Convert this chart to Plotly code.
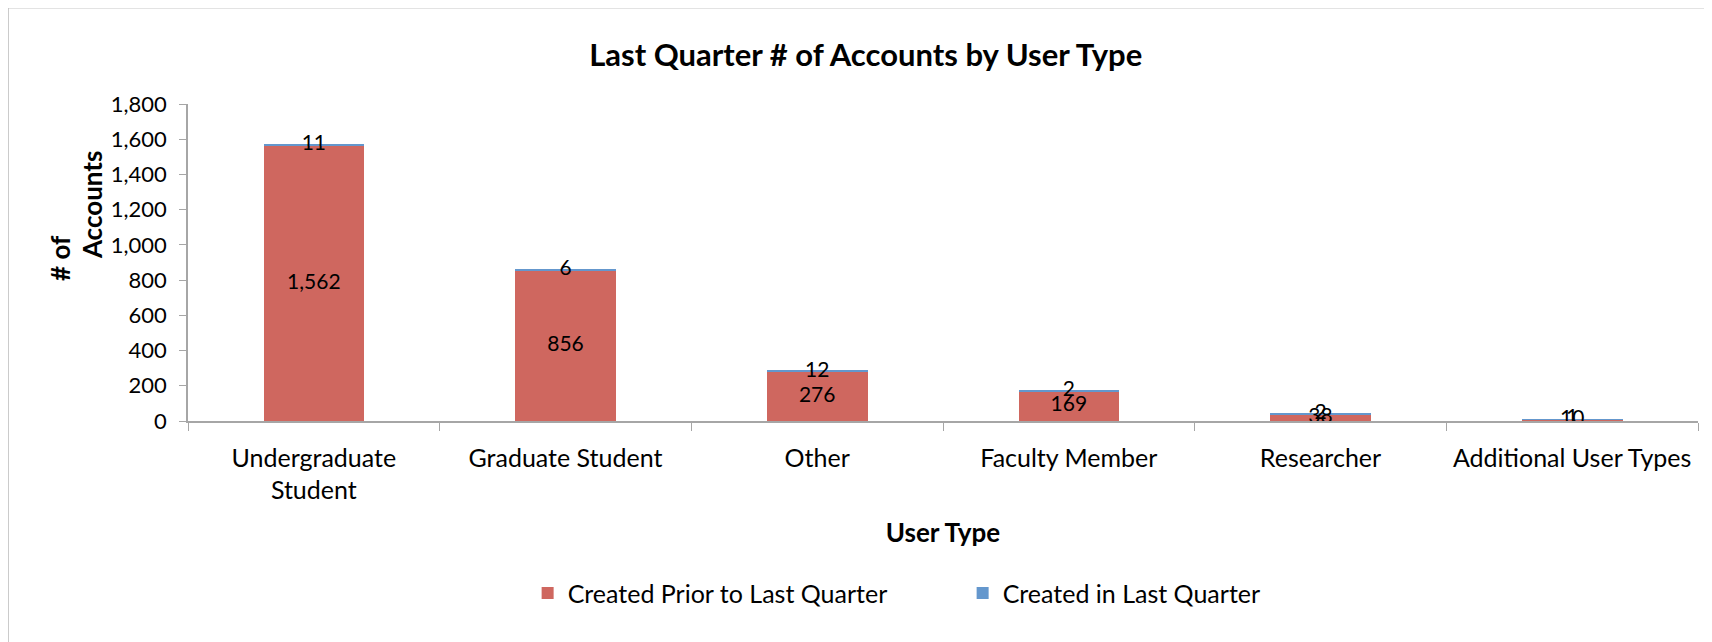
import plotly.graph_objects as go

user_types = ["Undergraduate<br>Student", "Graduate Student", "Other",
              "Faculty Member", "Researcher", "Additional User Types"]
prior_counts = [1562, 856, 276, 169, 38, 10]
last_quarter_counts = [11, 6, 12, 2, 2, 1]

PRIOR_COLOUR = "#CF675F"
LAST_COLOUR = "#6497CD"
FONT = "Lato, 'Open Sans', sans-serif"

fig = go.Figure()

fig.add_trace(go.Bar(
    x=user_types, y=prior_counts, name="Created Prior to Last Quarter",
    marker=dict(color=PRIOR_COLOUR, line_width=0), width=0.4,
))
fig.add_trace(go.Bar(
    x=user_types, y=last_quarter_counts, name="Created in Last Quarter",
    marker=dict(color=LAST_COLOUR, line_width=0), width=0.4,
))

# data labels centred on each segment
mid_prior = [v / 2 for v in prior_counts]
mid_last = [p + v / 2 for p, v in zip(prior_counts, last_quarter_counts)]
for mids, vals in ((mid_prior, prior_counts), (mid_last, last_quarter_counts)):
    fig.add_trace(go.Scatter(
        x=user_types, y=mids, mode="text",
        text=[f"{v:,}" for v in vals],
        textfont=dict(size=21, color="black", family=FONT),
        showlegend=False, hoverinfo="skip",
    ))

# the page body has an 8px margin, so the figure sits 8px right/down
fig.update_layout(
    barmode="stack",
    width=1712, height=642,
    paper_bgcolor="white", plot_bgcolor="white",
    font=dict(family=FONT, color="black"),
    margin=dict(l=180, r=22, t=96, b=229, autoexpand=False),
    title=dict(text="<b>Last Quarter # of Accounts by User Type</b>",
               x=0.501, xref="container", y=0.927, yanchor="middle",
               font=dict(size=31, family=FONT)),
    xaxis=dict(
        showline=True, linecolor="#A6A6A6", linewidth=1.5,
        ticks="outside", tickson="boundaries", ticklen=8,
        tickcolor="#A6A6A6", tickfont=dict(size=25), tickangle=0,
        ticklabelstandoff=14, showgrid=False,
        title=dict(text="<b>User Type</b>", font=dict(size=26), standoff=21),
    ),
    yaxis=dict(
        range=[0, 1800], dtick=200, tickformat=",d",
        showline=True, linecolor="#A6A6A6", linewidth=1.5,
        ticks="outside", ticklen=7, tickcolor="#A6A6A6",
        tickfont=dict(size=22), ticklabelstandoff=8,
        showgrid=False, zeroline=False,
    ),
    legend=dict(orientation="h", x=0.513, xanchor="center", y=-0.543,
                yanchor="middle", font=dict(size=25), traceorder="normal",
                entrywidth=390),
    annotations=[
        dict(text="<b># of</b>", textangle=-90,
             xref="paper", yref="paper", x=-0.0848, y=0.514,
             xanchor="center", yanchor="middle", showarrow=False,
             font=dict(size=26, family=FONT)),
        dict(text="<b>Accounts</b>", textangle=-90,
             xref="paper", yref="paper", x=-0.0636, y=0.681,
             xanchor="center", yanchor="middle", showarrow=False,
             font=dict(size=26, family=FONT)),
    ],
    shapes=[dict(type="rect", xref="paper", yref="paper",
                 x0=-0.119, x1=1.0046, y0=-0.71, y1=1.303,
                 line=dict(color="#BFBFBF", width=1))],
)

fig.write_html("out.html")
